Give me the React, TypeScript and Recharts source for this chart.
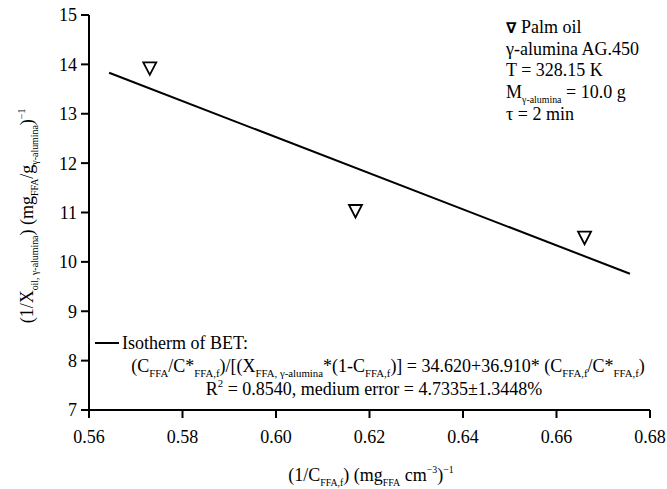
import React from 'react';
import { ComposedChart, Scatter, Line, XAxis, YAxis } from 'recharts';

// measured points (palm oil)
const xValues = [0.573, 0.617, 0.666];
const yValues = [13.92, 11.03, 10.49];
// BET fit line ends
const fitX = [0.5643, 0.6757];
const fitY = [13.83, 9.76];

const xTicks = [0.56, 0.58, 0.6, 0.62, 0.64, 0.66, 0.68];
const yTicks = [7, 8, 9, 10, 11, 12, 13, 14, 15];

const points = xValues.map((x, i) => ({ x, y: yValues[i] }));
const fitLine = fitX.map((x, i) => ({ x, y: fitY[i] }));

const FONT = 'Liberation Serif, Tinos, DejaVu Serif, serif';

type Seg = { t: string; v?: 'sub' | 'sup' };

function Rich({ x, y, segs, size, anchor = 'start', rotate, subScale = 0.6 }: { x: number; y: number; segs: Seg[]; size: number; anchor?: string; rotate?: boolean; subScale?: number }) {
    let cur = 0;
    const kids = segs.map((s, i) => {
        const target = s.v === 'sub' ? size * 0.3 : s.v === 'sup' ? -size * 0.42 : 0;
        const dy = target - cur;
        cur = target;
        return (
            <tspan key={i} dy={dy} style={{ fontSize: s.v ? size * subScale : size }}>
                {s.t}
            </tspan>
        );
    });
    return (
        <text
            x={x}
            y={y}
            textAnchor={anchor as any}
            style={{ fontFamily: FONT }}
            fill="#000"
            transform={rotate ? `rotate(-90 ${x} ${y})` : undefined}
        >
            {kids}
        </text>
    );
}

const Triangle = (props: any) => {
    const { cx, cy } = props;
    return <path d={`M${cx - 6.5},${cy - 6} L${cx + 6.5},${cy - 6} L${cx},${cy + 6.5} Z`} fill="none" stroke="#000" strokeWidth={1.8} />;
};

const yLabel: Seg[] = [
    { t: '(1/X' }, { t: 'oil, γ-alumina', v: 'sub' }, { t: ') (mg' }, { t: 'FFA', v: 'sub' },
    { t: '/g' }, { t: 'γ-alumina', v: 'sub' }, { t: ')' }, { t: '−1', v: 'sup' },
];
const xLabel: Seg[] = [
    { t: '(1/C' }, { t: 'FFA,f', v: 'sub' }, { t: ') (mg' }, { t: 'FFA', v: 'sub' },
    { t: ' cm' }, { t: '−3', v: 'sup' }, { t: ')' }, { t: '−1', v: 'sup' },
];
const equation: Seg[] = [
    { t: '(C' }, { t: 'FFA', v: 'sub' }, { t: '/C*' }, { t: 'FFA,f', v: 'sub' },
    { t: ')/[(X' }, { t: 'FFA, γ-alumina', v: 'sub' }, { t: '*(1-C' }, { t: 'FFA,f', v: 'sub' },
    { t: ')] = 34.620+36.910* (C' }, { t: 'FFA,f', v: 'sub' }, { t: '/C*' }, { t: 'FFA,f', v: 'sub' }, { t: ')' },
];
const r2: Seg[] = [{ t: 'R' }, { t: '2', v: 'sup' }, { t: ' = 0.8540, medium error = 4.7335±1.3448%' }];
const massLine: Seg[] = [{ t: 'M' }, { t: 'γ-alumina', v: 'sub' }, { t: ' = 10.0 g' }];

const plain = (size: number) => ({ fontFamily: FONT, fontSize: size });

export default function App() {
    const tick = { fill: '#000', fontSize: 18, style: { fontFamily: FONT } };
    return (
        <div style={{ position: 'absolute', left: 0, top: 0, width: 667, height: 489, background: '#fff', fontFamily: FONT }}>
            <ComposedChart width={667} height={489} margin={{ top: 15, right: 17, left: 0, bottom: 49 }}>
                <XAxis
                    type="number"
                    dataKey="x"
                    domain={[0.56, 0.68]}
                    ticks={xTicks}
                    tickFormatter={(v: number) => v.toFixed(2)}
                    height={30}
                    tick={tick}
                    tickSize={8}
                    tickMargin={12}
                    axisLine={{ stroke: '#000', strokeWidth: 2 }}
                    tickLine={{ stroke: '#000', strokeWidth: 2 }}
                    allowDataOverflow
                />
                <YAxis
                    type="number"
                    dataKey="y"
                    domain={[7, 15]}
                    ticks={yTicks}
                    width={89}
                    tick={tick}
                    tickSize={8}
                    tickMargin={4}
                    axisLine={{ stroke: '#000', strokeWidth: 2 }}
                    tickLine={{ stroke: '#000', strokeWidth: 2 }}
                    allowDataOverflow
                />
                <Line data={fitLine} dataKey="y" stroke="#000" strokeWidth={2} dot={false} isAnimationActive={false} />
                <Scatter data={points} dataKey="y" shape={<Triangle />} isAnimationActive={false} />
            </ComposedChart>
            <svg width={667} height={489} style={{ position: 'absolute', left: 0, top: 0, pointerEvents: 'none' }}>
                <Rich x={33} y={216} segs={yLabel} size={18} anchor="middle" rotate subScale={0.55} />
                <Rich x={371} y={481} segs={xLabel} size={18} anchor="middle" subScale={0.55} />
                {/* top-right note */}
                <text x={506} y={33} style={plain(18)} fill="#000">
                    <tspan style={{ fontFamily: 'DejaVu Sans', fontWeight: 'bold', fontSize: 15 }}>∇</tspan> Palm oil
                </text>
                <text x={506} y={55} style={plain(18)} fill="#000">γ-alumina AG.450</text>
                <text x={506} y={76} style={plain(18)} fill="#000">T = 328.15 K</text>
                <Rich x={506} y={98} segs={massLine} size={18} subScale={0.55} />
                <text x={506} y={120} style={plain(18)} fill="#000">τ = 2 min</text>
                {/* fit legend */}
                <line x1={95} y1={343} x2={119} y2={343} stroke="#000" strokeWidth={2} />
                <text x={122} y={349} style={plain(18)} fill="#000">Isotherm of BET:</text>
                <Rich x={388} y={372} segs={equation} size={18} anchor="middle" subScale={0.6} />
                <Rich x={374} y={395} segs={r2} size={18} anchor="middle" />
            </svg>
        </div>
    );
}
